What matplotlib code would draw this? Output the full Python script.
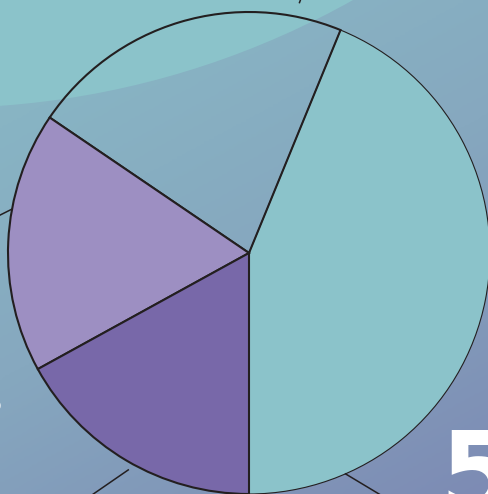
import matplotlib

matplotlib.use("Agg")
import matplotlib.pyplot as plt
import numpy as np
from matplotlib.colors import LinearSegmentedColormap
from matplotlib.patches import Circle

# slice shares (percent), counter-clockwise from the bottom
labels = ["A", "B", "C", "D"]
shares = [43.8, 21.7, 17.5, 17.0]
colors = ["#8bc3ca", "none", "#9d8fc2", "#7868a9"]

W, H = 489, 494
fig = plt.figure(figsize=(W / 100, H / 100), dpi=100)

# background: diagonal gradient plus a lighter sweep at the top left
bg = fig.add_axes([0, 0, 1, 1])
xx, yy = np.meshgrid(np.linspace(0, 1, 200), np.linspace(0, 1, 200))
grad = 0.35 * xx + 0.65 * yy
cmap = LinearSegmentedColormap.from_list("bg", ["#89bac6", "#86a8bf", "#7d8bb4"])
bg.imshow(grad, cmap=cmap, extent=[0, W, H, 0], aspect="auto", interpolation="bilinear")
bg.add_patch(Circle((-60, -736), 844, color="#8bc3ca", lw=0))
bg.text(439, 426, "5", va="top", ha="left", fontsize=80, fontweight="heavy", color="white")
bg.text(-18, 398, "?", va="top", ha="left", fontsize=26, fontweight="bold", color="white")
bg.set_xlim(0, W)
bg.set_ylim(H, 0)
bg.axis("off")

# pie, centred at (249, 253) px with radius 241 px
ax = fig.add_axes([0, 0, 1, 1])
ax.patch.set_alpha(0)
wedges, _ = ax.pie(shares, colors=colors, startangle=-90, counterclock=True,
                   wedgeprops=dict(edgecolor="#231f20", linewidth=1.5))
wedges[0].set_linewidth(0.8)
wedges[0].set_zorder(1)

# leader lines (start angle on the rim, start radius, direction, length)
leaders = [(169.5, 1.0, 206.6, 0.3), (240.9, 1.03, 214.6, 0.4),
           (293.6, 1.0, -31.0, 0.3), (78.6, 1.06, 70.0, 0.2)]
for ang, r0, d, ln in leaders:
    x0, y0 = r0 * np.cos(np.radians(ang)), r0 * np.sin(np.radians(ang))
    x1, y1 = x0 + ln * np.cos(np.radians(d)), y0 + ln * np.sin(np.radians(d))
    ax.plot([x0, x1], [y0, y1], color="#231f20", lw=1.1, clip_on=True)

r = 241
ax.set_xlim(-249 / r, (W - 249) / r)
ax.set_ylim(-(H - 253) / r, 253 / r)
ax.set_aspect("auto")
ax.axis("off")

fig.savefig("out.png", dpi=100)
plt.close(fig)
